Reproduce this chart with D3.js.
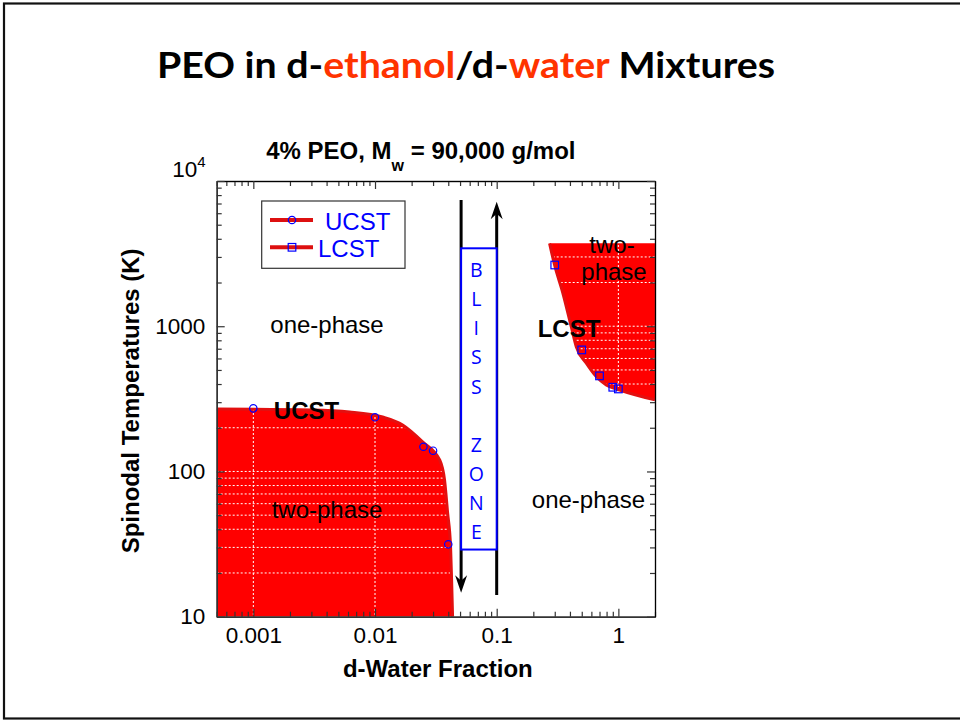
<!DOCTYPE html>
<html>
<head>
<meta charset="utf-8">
<script src="https://cdn.jsdelivr.net/npm/d3@7"></script>
<style>
  body { margin: 0; background: #fff; }
  svg { display: block; }
</style>
</head>
<body>
<svg id="chart" width="960" height="721"></svg>
<script>
// Measured spinodal points, upper critical branch (d-water fraction, K)
const ucstFraction = [0.001, 0.01, 0.025, 0.03, 0.04];
const ucstTemp = [272, 236, 148, 139, 31.5];

// Measured spinodal points, lower critical branch
const lcstFraction = [0.3, 0.5, 0.7, 0.9, 1.0];
const lcstTemp = [2640, 687, 455, 380, 370];

// Phase boundary through the UCST points (two-phase region lies below it)
const ucstCurveFraction = [0.0005, 0.003, 0.00618, 0.01154, 0.01687, 0.0246, 0.034, 0.0373, 0.0395, 0.0418, 0.0426, 0.0434];
const ucstCurveTemp = [269, 265, 257, 237, 209, 160, 120, 87, 52, 30, 18, 10];

// Phase boundary through the LCST points (two-phase region lies above it)
const lcstCurveFraction = [0.272, 0.299, 0.350, 0.410, 0.451, 0.545, 0.658, 0.795, 1.025, 2];
const lcstCurveTemp = [3720, 2640, 1687, 993, 723, 556, 450, 394, 364, 311];
const lcstCeiling = [3730];

// Axes
const xDomain = [0.0005, 2];
const yDomain = [10, 10000];
const xTickValues = [0.001, 0.01, 0.1, 1];
const xTickLabels = ["0.001", "0.01", "0.1", "1"];
const yTickValues = [10, 100, 1000, 10000];
const yTickLabels = ["10", "100", "1000", "10"];

// "Bliss zone" window between the two branches
const blissFraction = [0.051, 0.1];
const blissTemp = [29, 3440];
const blissLetters = ["B", "L", "I", "S", "S", "", "Z", "O", "N", "E"];
const downArrowTemp = [7400, 14.6];
const upArrowTemp = [14.1, 7200];

const svg = d3.select("#chart");
const W = 960, H = 721;
const plot = { left: 216.7, right: 655, top: 181, bottom: 616.7 };
const sans = "'Liberation Sans', Arial, Helvetica, sans-serif";
const slideFont = "Lato, 'Open Sans', sans-serif";
const RED = "#ff0000", EDGE = "#e31010", BLUE = "#0000ff";

svg.append("rect").attr("width", W).attr("height", H).attr("fill", "#fff");
// slide frame
svg.append("rect")
  .attr("x", 4).attr("y", 3.5).attr("width", 960).attr("height", 715)
  .attr("fill", "none").attr("stroke", "#111").attr("stroke-width", 2.2);

// slide heading
const head = svg.append("text")
  .attr("x", 157).attr("y", 78)
  .attr("font-family", slideFont).attr("font-weight", 700).attr("font-size", 36)
  .attr("textLength", 618).attr("lengthAdjust", "spacingAndGlyphs");
[["PEO in d-", "#000"], ["ethanol", "#ff3300"], ["/d-", "#000"], ["water", "#ff3300"], [" Mixtures", "#000"]]
  .forEach(([t, c]) => head.append("tspan").attr("fill", c).text(t));

// chart title
const title = svg.append("text")
  .attr("x", (plot.left + plot.right) / 2 - 15).attr("y", 159.3)
  .attr("text-anchor", "middle")
  .attr("font-family", sans).attr("font-weight", 700).attr("font-size", 24);
title.append("tspan").text("4% PEO, M");
title.append("tspan").attr("font-size", 16).attr("dy", 12).text("w");
title.append("tspan").attr("dy", -12).text(" = 90,000 g/mol");

const x = d3.scaleLog().domain(xDomain).range([plot.left, plot.right]);
const y = d3.scaleLog().domain(yDomain).range([plot.bottom, plot.top]);

svg.append("clipPath").attr("id", "plotClip")
  .append("rect")
  .attr("x", plot.left).attr("y", plot.top)
  .attr("width", plot.right - plot.left).attr("height", plot.bottom - plot.top);

const g = svg.append("g").attr("clip-path", "url(#plotClip)");

// two-phase regions
const ucstPts = ucstCurveFraction.map((f, i) => [f, ucstCurveTemp[i]]);
const lcstPts = lcstCurveFraction.map((f, i) => [f, lcstCurveTemp[i]]);

g.append("path")
  .datum(ucstPts)
  .attr("fill", RED)
  .attr("d", d3.area().x(d => x(d[0])).y0(y(yDomain[0])).y1(d => y(d[1])).curve(d3.curveMonotoneX));

g.append("path")
  .datum(lcstPts)
  .attr("fill", RED)
  .attr("d", d3.area().x(d => x(d[0])).y0(y(lcstCeiling[0])).y1(d => y(d[1])).curve(d3.curveMonotoneX));

// grid (white dotted, shows over the filled regions)
const isMajor = v => Math.abs(Math.log10(v) - Math.round(Math.log10(v))) < 1e-6;
const yAll = y.ticks();
const xAll = x.ticks();
g.append("g").selectAll("line")
  .data(yAll.filter(v => v > yDomain[0] && v < yDomain[1]))
  .join("line")
  .attr("x1", plot.left).attr("x2", plot.right)
  .attr("y1", d => y(d)).attr("y2", d => y(d))
  .attr("stroke", "#fff").attr("stroke-width", 1).attr("stroke-dasharray", "2,2");
g.append("g").selectAll("line")
  .data(xTickValues)
  .join("line")
  .attr("x1", d => x(d)).attr("x2", d => x(d))
  .attr("y1", plot.top).attr("y2", plot.bottom)
  .attr("stroke", "#fff").attr("stroke-width", 1).attr("stroke-dasharray", "2,2");

// boundary lines
const line = d3.line().x(d => x(d[0])).y(d => y(d[1])).curve(d3.curveMonotoneX);
g.append("path").datum(ucstPts).attr("fill", "none").attr("stroke", EDGE).attr("stroke-width", 3).attr("d", line);
g.append("path").datum(lcstPts).attr("fill", "none").attr("stroke", EDGE).attr("stroke-width", 3).attr("d", line);

// measured points
g.append("g").selectAll("circle")
  .data(ucstFraction.map((f, i) => [f, ucstTemp[i]]))
  .join("circle")
  .attr("cx", d => x(d[0])).attr("cy", d => y(d[1])).attr("r", 3.7)
  .attr("fill", "none").attr("stroke", BLUE).attr("stroke-width", 1.2);
g.append("g").selectAll("rect")
  .data(lcstFraction.map((f, i) => [f, lcstTemp[i]]))
  .join("rect")
  .attr("x", d => x(d[0]) - 3.8).attr("y", d => y(d[1]) - 3.8)
  .attr("width", 7.6).attr("height", 7.6)
  .attr("fill", "none").attr("stroke", BLUE).attr("stroke-width", 1.2);

// region labels
const label = (tx, ty, txt, bold, anchor) => svg.append("text")
  .attr("x", tx).attr("y", ty).attr("text-anchor", anchor || "middle")
  .attr("font-family", sans).attr("font-size", 24)
  .attr("font-weight", bold ? 700 : 400).attr("fill", "#000").text(txt);
label(327, 332.5, "one-phase");
label(306.5, 419.3, "UCST", true);
label(327, 518.3, "two-phase");
label(569, 336.7, "LCST", true);
label(612, 252.7, "two-");
label(614, 280, "phase");
label(588.5, 508.3, "one-phase");

// bliss zone arrows
const arrowHead = (px, py, dir) => {
  const h = 17.5, w = 6, n = 12;
  return `M${px},${py} L${px - w},${py - dir * h} L${px},${py - dir * n} L${px + w},${py - dir * h} Z`;
};
svg.append("line")
  .attr("x1", x(blissFraction[0])).attr("x2", x(blissFraction[0]))
  .attr("y1", y(downArrowTemp[0])).attr("y2", y(downArrowTemp[1]) - 8)
  .attr("stroke", "#000").attr("stroke-width", 3);
svg.append("path").attr("d", arrowHead(x(blissFraction[0]), y(downArrowTemp[1]), 1)).attr("fill", "#000");
svg.append("line")
  .attr("x1", x(blissFraction[1])).attr("x2", x(blissFraction[1]))
  .attr("y1", y(upArrowTemp[0])).attr("y2", y(upArrowTemp[1]) + 8)
  .attr("stroke", "#000").attr("stroke-width", 3);
svg.append("path").attr("d", arrowHead(x(blissFraction[1]), y(upArrowTemp[1]), -1)).attr("fill", "#000");

const bx0 = x(blissFraction[0]), bx1 = x(blissFraction[1]);
const by0 = y(blissTemp[1]), by1 = y(blissTemp[0]);
svg.append("rect")
  .attr("x", bx0).attr("y", by0).attr("width", bx1 - bx0).attr("height", by1 - by0)
  .attr("fill", "#fff").attr("stroke", BLUE).attr("stroke-width", 2);
svg.append("g").selectAll("text")
  .data(blissLetters)
  .join("text")
  .attr("x", bx0 + 15.2)
  .attr("y", (d, i) => by0 + 29 + i * 29.05)
  .attr("text-anchor", "middle")
  .attr("font-family", "'Open Sans', Lato, sans-serif").attr("font-size", 19.5)
  .attr("fill", BLUE).text(d => d);

// axes: inward ticks on all four sides
const axisStyle = sel => {
  sel.select(".domain").attr("stroke", "#333").attr("stroke-width", 1.4);
  sel.selectAll(".tick line").attr("stroke", "#333").attr("stroke-width", 1.2);
  sel.selectAll("text").attr("font-family", sans).attr("font-size", 22.5).attr("fill", "#000");
};
const xMinor = xAll.filter(v => !isMajor(v));
const yMinor = yAll.filter(v => !isMajor(v));

const bottomAxis = svg.append("g").attr("transform", `translate(0,${plot.bottom})`);
bottomAxis.append("g").call(d3.axisBottom(x).tickValues(xMinor).tickSizeInner(-5).tickSizeOuter(0).tickFormat(""));
bottomAxis.append("g").call(d3.axisBottom(x).tickValues(xTickValues).tickSizeInner(-8).tickSizeOuter(0)
  .tickPadding(10).tickFormat((d, i) => xTickLabels[i])).call(axisStyle);
bottomAxis.call(axisStyle);

const topAxis = svg.append("g").attr("transform", `translate(0,${plot.top})`);
topAxis.append("g").call(d3.axisTop(x).tickValues(xMinor).tickSizeInner(-5).tickSizeOuter(0).tickFormat(""));
topAxis.append("g").call(d3.axisTop(x).tickValues(xTickValues).tickSizeInner(-8).tickSizeOuter(0).tickFormat(""));
topAxis.call(axisStyle);

const leftAxis = svg.append("g").attr("transform", `translate(${plot.left},0)`);
leftAxis.append("g").call(d3.axisLeft(y).tickValues(yMinor).tickSizeInner(-5).tickSizeOuter(0).tickFormat(""));
leftAxis.append("g").call(d3.axisLeft(y).tickValues(yTickValues).tickSizeInner(-8).tickSizeOuter(0)
  .tickPadding(11.5).tickFormat((d, i) => yTickLabels[i])).call(axisStyle);
leftAxis.call(axisStyle);
// top label carries an exponent and sits a little above its tick
leftAxis.selectAll(".tick text").filter(d => d === yDomain[1])
  .attr("dy", null).attr("y", -4.5).attr("x", -11)
  .append("tspan").attr("font-size", 15).attr("dy", -10).text("4");

const rightAxis = svg.append("g").attr("transform", `translate(${plot.right},0)`);
rightAxis.append("g").call(d3.axisRight(y).tickValues(yMinor).tickSizeInner(-5).tickSizeOuter(0).tickFormat(""));
rightAxis.append("g").call(d3.axisRight(y).tickValues(yTickValues).tickSizeInner(-8).tickSizeOuter(0).tickFormat(""));
rightAxis.call(axisStyle);

// axis titles
svg.append("text")
  .attr("x", (plot.left + plot.right) / 2 + 2).attr("y", 676.7)
  .attr("text-anchor", "middle").attr("font-family", sans)
  .attr("font-weight", 700).attr("font-size", 24).text("d-Water Fraction");
svg.append("text")
  .attr("transform", `translate(139,${(plot.top + plot.bottom) / 2 + 2}) rotate(-90)`)
  .attr("text-anchor", "middle").attr("font-family", sans)
  .attr("font-weight", 700).attr("font-size", 24).text("Spinodal Temperatures (K)");

// legend
const lg = svg.append("g").attr("transform", "translate(261.7,201)");
lg.append("rect").attr("width", 143.3).attr("height", 67.3)
  .attr("fill", "#fff").attr("stroke", "#333").attr("stroke-width", 1.2);
[["UCST", "circle", 19, 63.3], ["LCST", "square", 46.3, 56.3]].forEach(([name, shape, ly, tx]) => {
  lg.append("line").attr("x1", 8.3).attr("x2", 51.3).attr("y1", ly).attr("y2", ly)
    .attr("stroke", "#dd1010").attr("stroke-width", 4);
  if (shape === "circle") {
    lg.append("circle").attr("cx", 30.3).attr("cy", ly).attr("r", 3.7)
      .attr("fill", "none").attr("stroke", BLUE).attr("stroke-width", 1.2);
  } else {
    lg.append("rect").attr("x", 30.3 - 3.8).attr("y", ly - 3.8).attr("width", 7.6).attr("height", 7.6)
      .attr("fill", "none").attr("stroke", BLUE).attr("stroke-width", 1.2);
  }
  lg.append("text").attr("x", tx).attr("y", ly + 9.5)
    .attr("font-family", sans).attr("font-size", 24).attr("fill", BLUE).text(name);
});
</script>
</body>
</html>
